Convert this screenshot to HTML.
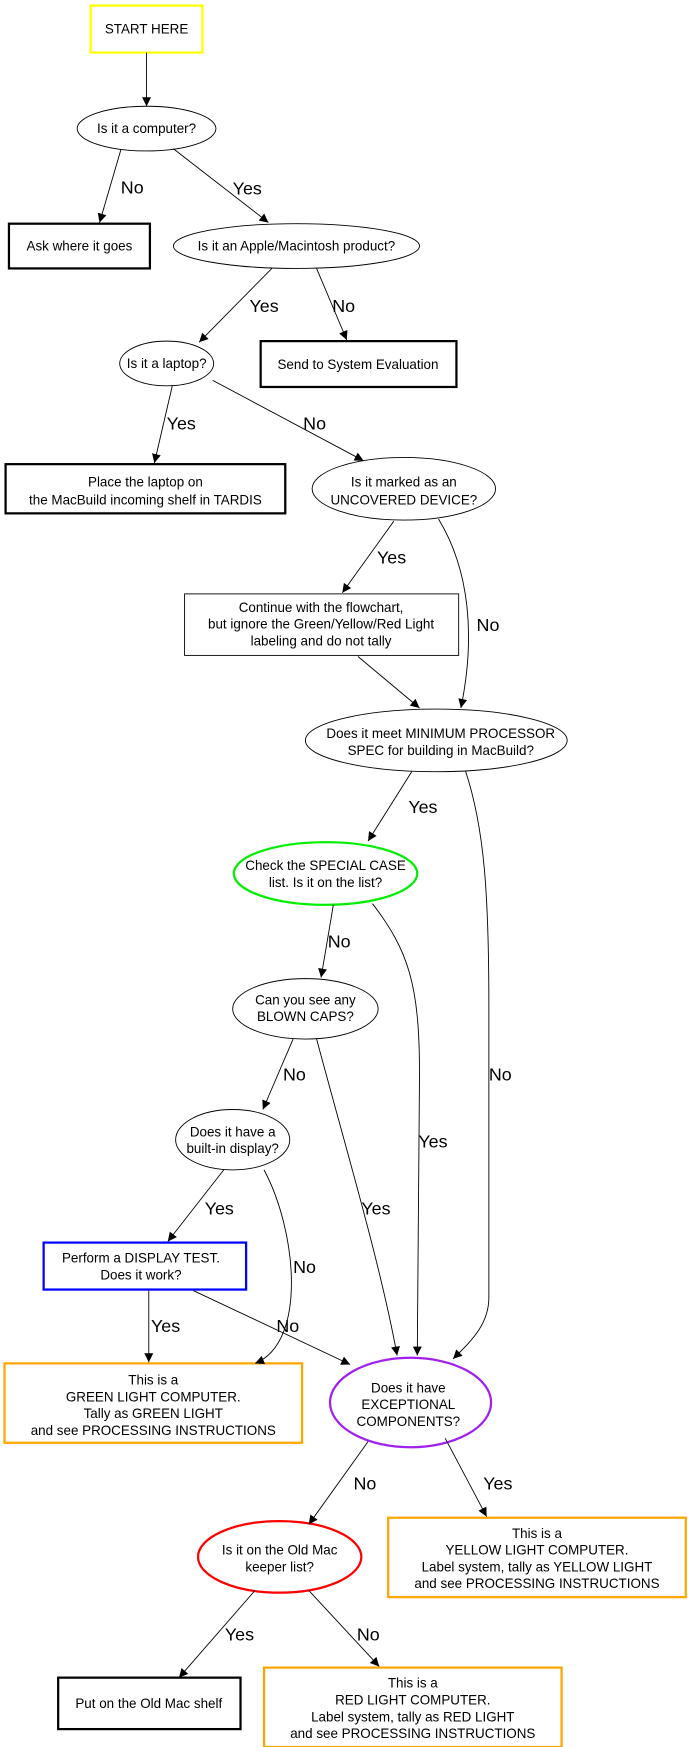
<!DOCTYPE html>
<html><head><meta charset="utf-8"><style>
html,body{margin:0;padding:0;background:#fff;}
svg{display:block;}
text{font-family:"Liberation Sans",sans-serif;fill:#000;}
.n{font-size:12px;text-anchor:middle;}
.l{font-size:16px;}
.e{fill:none;stroke:#000;stroke-width:0.8;marker-end:url(#a);}
</style></head><body>
<svg width="688" height="1747" viewBox="0 0 615 1562" preserveAspectRatio="none" xmlns="http://www.w3.org/2000/svg">
<defs><marker id="a" viewBox="0 0 10 10" refX="10" refY="5" markerWidth="10" markerHeight="8" markerUnits="userSpaceOnUse" orient="auto"><path d="M0,0 L10,5 L0,10 z" fill="#000"/></marker></defs>

<!-- nodes -->
<rect x="81" y="5" width="100" height="42" fill="none" stroke="#ffff00" stroke-width="2"/>
<text class="n" x="131" y="30">START HERE</text>

<ellipse cx="131" cy="115" rx="62" ry="20" fill="none" stroke="#000" stroke-width="0.8"/>
<text class="n" x="131" y="119">Is it a computer?</text>

<rect x="8" y="200" width="126" height="40" fill="none" stroke="#000" stroke-width="2"/>
<text class="n" x="71" y="224">Ask where it goes</text>

<ellipse cx="265" cy="220" rx="110" ry="20" fill="none" stroke="#000" stroke-width="0.8"/>
<text class="n" x="265" y="224">Is it an Apple/Macintosh product?</text>

<ellipse cx="149" cy="325" rx="42" ry="20" fill="none" stroke="#000" stroke-width="0.8"/>
<text class="n" x="149" y="329">Is it a laptop?</text>

<rect x="233" y="305" width="175" height="41" fill="none" stroke="#000" stroke-width="2"/>
<text class="n" x="320" y="330">Send to System Evaluation</text>

<rect x="5" y="415" width="250" height="44" fill="none" stroke="#000" stroke-width="2"/>
<text class="n" x="130" y="435">Place the laptop on</text>
<text class="n" x="130" y="451">the MacBuild incoming shelf in TARDIS</text>

<ellipse cx="361" cy="437" rx="82" ry="28" fill="none" stroke="#000" stroke-width="0.8"/>
<text class="n" x="361" y="435">Is it marked as an</text>
<text class="n" x="361" y="451">UNCOVERED DEVICE?</text>

<rect x="165" y="531" width="245" height="55" fill="none" stroke="#000" stroke-width="0.8"/>
<text class="n" x="287" y="547">Continue with the flowchart,</text>
<text class="n" x="287" y="562">but ignore the Green/Yellow/Red Light</text>
<text class="n" x="287" y="577">labeling and do not tally</text>

<ellipse cx="390" cy="662" rx="117" ry="28" fill="none" stroke="#000" stroke-width="0.8"/>
<text class="n" x="394" y="660">Does it meet MINIMUM PROCESSOR</text>
<text class="n" x="394" y="675">SPEC for building in MacBuild?</text>

<ellipse cx="291" cy="781" rx="82" ry="28" fill="none" stroke="#00ee00" stroke-width="2"/>
<text class="n" x="291" y="778">Check the SPECIAL CASE</text>
<text class="n" x="291" y="793">list.  Is it on the list?</text>

<ellipse cx="273" cy="902" rx="65" ry="27" fill="none" stroke="#000" stroke-width="0.8"/>
<text class="n" x="273" y="898">Can you see any</text>
<text class="n" x="273" y="913">BLOWN CAPS?</text>

<ellipse cx="208" cy="1019" rx="51" ry="27" fill="none" stroke="#000" stroke-width="0.8"/>
<text class="n" x="208" y="1016">Does it have a</text>
<text class="n" x="208" y="1031">built-in display?</text>

<rect x="39" y="1111" width="181" height="42" fill="none" stroke="#0000ff" stroke-width="2"/>
<text class="n" x="126" y="1129">Perform a DISPLAY TEST.</text>
<text class="n" x="126" y="1144">Does it work?</text>

<rect x="4" y="1219" width="266" height="71" fill="none" stroke="#ffa500" stroke-width="2"/>
<text class="n" x="137" y="1238">This is a</text>
<text class="n" x="137" y="1253">GREEN LIGHT COMPUTER.</text>
<text class="n" x="137" y="1268">Tally as GREEN LIGHT</text>
<text class="n" x="137" y="1283">and see PROCESSING INSTRUCTIONS</text>

<ellipse cx="367" cy="1254" rx="72" ry="40" fill="none" stroke="#a020f0" stroke-width="2"/>
<text class="n" x="365" y="1245">Does it have</text>
<text class="n" x="365" y="1260">EXCEPTIONAL</text>
<text class="n" x="365" y="1275">COMPONENTS?</text>

<rect x="347" y="1357" width="266" height="71" fill="none" stroke="#ffa500" stroke-width="2"/>
<text class="n" x="480" y="1375">This is a</text>
<text class="n" x="480" y="1390">YELLOW LIGHT COMPUTER.</text>
<text class="n" x="480" y="1405">Label system, tally as YELLOW LIGHT</text>
<text class="n" x="480" y="1420">and see PROCESSING INSTRUCTIONS</text>

<ellipse cx="250" cy="1392" rx="73" ry="32" fill="none" stroke="#ff0000" stroke-width="2"/>
<text class="n" x="250" y="1390">Is it on the Old Mac</text>
<text class="n" x="250" y="1405">keeper list?</text>

<rect x="52" y="1500" width="163" height="46" fill="none" stroke="#000" stroke-width="2"/>
<text class="n" x="133" y="1527">Put on the Old Mac shelf</text>

<rect x="236" y="1491" width="266" height="71" fill="none" stroke="#ffa500" stroke-width="2"/>
<text class="n" x="369" y="1509">This is a</text>
<text class="n" x="369" y="1524">RED LIGHT COMPUTER.</text>
<text class="n" x="369" y="1539">Label system, tally as RED LIGHT</text>
<text class="n" x="369" y="1554">and see PROCESSING INSTRUCTIONS</text>

<!-- edges -->
<path class="e" d="M131,47 L131,95"/>
<path class="e" d="M108,134 L89,199"/>
<text class="l" x="108" y="173">No</text>
<path class="e" d="M155,133 L240,199"/>
<text class="l" x="208" y="174">Yes</text>
<path class="e" d="M243,240 L178,306"/>
<text class="l" x="223" y="279">Yes</text>
<path class="e" d="M283,240 L310,304"/>
<text class="l" x="297" y="279">No</text>
<path class="e" d="M154,345 L138,414"/>
<text class="l" x="149" y="384">Yes</text>
<path class="e" d="M190,340 L325,412"/>
<text class="l" x="271" y="384">No</text>
<path class="e" d="M352,466 L306,530"/>
<text class="l" x="337" y="504">Yes</text>
<path class="e" d="M392,464 C420,510 425,570 412,633"/>
<text class="l" x="426" y="564">No</text>
<path class="e" d="M320,587 L375,633"/>
<path class="e" d="M368,690 L329,752"/>
<text class="l" x="365" y="727">Yes</text>
<path class="e" d="M416,689 C433,740 437,800 437,900 L437,1160 C437,1185 420,1200 405,1215"/>
<text class="l" x="437" y="966">No</text>
<path class="e" d="M298,809 L287,874"/>
<text class="l" x="293" y="847">No</text>
<path class="e" d="M333,808 C365,850 375,880 375,960 L373,1212"/>
<text class="l" x="374" y="1026">Yes</text>
<path class="e" d="M262,929 L235,992"/>
<text class="l" x="253" y="966">No</text>
<path class="e" d="M283,929 C310,1030 340,1130 355,1212"/>
<text class="l" x="323" y="1086">Yes</text>
<path class="e" d="M200,1046 L150,1110"/>
<text class="l" x="183" y="1086">Yes</text>
<path class="e" d="M236,1046 C265,1100 275,1200 228,1219"/>
<text class="l" x="262" y="1138">No</text>
<path class="e" d="M133,1154 L133,1218"/>
<text class="l" x="135" y="1191">Yes</text>
<path class="e" d="M173,1154 L313,1220"/>
<text class="l" x="247" y="1191">No</text>
<path class="e" d="M329,1289 L276,1363"/>
<text class="l" x="316" y="1332">No</text>
<path class="e" d="M398,1286 L435,1356"/>
<text class="l" x="432" y="1332">Yes</text>
<path class="e" d="M228,1422 L160,1500"/>
<text class="l" x="201" y="1467">Yes</text>
<path class="e" d="M276,1422 L339,1490"/>
<text class="l" x="319" y="1467">No</text>
</svg>
</body></html>
